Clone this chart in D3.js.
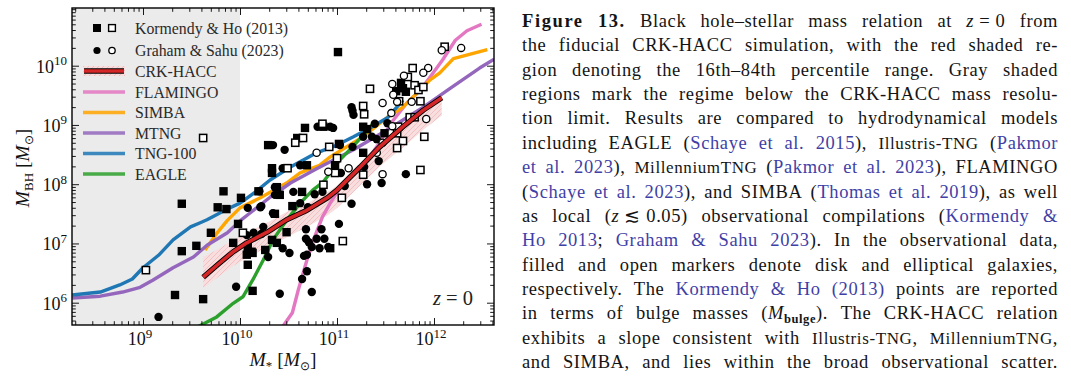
<!DOCTYPE html>
<html><head><meta charset="utf-8">
<script src="https://cdn.jsdelivr.net/npm/d3@7"></script>
<style>body{margin:0;background:#fff}svg{display:block}
svg text{font-family:"Liberation Serif",serif}</style>
</head><body>
<svg id="c" width="1071" height="383"></svg>
<script>
// ---------- data (log10 values) ----------
const crkX = [9.62, 9.79, 9.93, 10.07, 10.28, 10.48, 10.69, 10.90, 11.00, 11.24, 11.44, 11.68, 11.89, 12.08];
const crkY = [6.43, 6.67, 6.86, 7.01, 7.19, 7.40, 7.56, 7.77, 7.90, 8.29, 8.63, 8.97, 9.25, 9.46];
const crkHi = [6.77, 6.92, 7.06, 7.17, 7.35, 7.53, 7.68, 7.86, 7.98, 8.36, 8.69, 9.02, 9.30, 9.52];
const crkLo = [6.25, 6.45, 6.62, 6.76, 6.93, 7.10, 7.28, 7.47, 7.60, 7.98, 8.30, 8.62, 8.92, 9.16];

const flamX = [10.42, 10.54, 10.60, 10.69, 10.77, 10.85, 10.93, 11.03, 11.27, 11.41, 11.58, 11.72, 11.86, 11.96, 12.09, 12.22, 12.34, 12.49];
const flamY = [5.55, 5.83, 6.21, 6.72, 7.11, 7.45, 7.68, 7.94, 8.32, 8.63, 9.08, 9.37, 9.59, 9.81, 10.10, 10.43, 10.59, 10.70];

const simbaX = [9.64, 9.76, 9.87, 10.0, 10.21, 10.48, 10.62, 10.82, 10.93, 11.08, 11.27, 11.52, 11.68, 11.96, 12.06, 12.20, 12.55];
const simbaY = [6.89, 7.17, 7.39, 7.60, 7.77, 8.02, 8.19, 8.32, 8.46, 8.61, 8.80, 9.13, 9.30, 9.76, 9.88, 10.12, 10.27];

const mtngX = [8.27, 8.56, 8.79, 8.97, 9.10, 9.31, 9.52, 9.66, 9.87, 10.0, 10.10, 10.31, 10.52, 10.79, 11.17, 11.52, 11.89, 12.17, 12.47, 12.62];
const mtngY = [6.08, 6.11, 6.18, 6.26, 6.38, 6.59, 6.77, 6.97, 7.18, 7.38, 7.51, 7.78, 8.02, 8.26, 8.58, 8.92, 9.30, 9.62, 9.96, 10.11];

const tngX = [8.27, 8.56, 8.76, 8.89, 9.0, 9.16, 9.31, 9.49, 9.59, 9.66, 9.87, 10.0, 10.16, 10.31, 10.52, 10.79, 11.0, 11.17, 11.34, 11.52, 11.68];
const tngY = [6.13, 6.18, 6.30, 6.40, 6.59, 6.80, 7.06, 7.28, 7.35, 7.40, 7.58, 7.68, 7.87, 8.07, 8.29, 8.53, 8.66, 8.80, 8.95, 9.12, 9.42];

const eagleX = [9.55, 9.76, 9.93, 10.03, 10.13, 10.24, 10.34, 10.48, 10.62, 10.75, 10.86, 11.03, 11.16, 11.27, 11.36];
const eagleY = [5.58, 5.76, 5.99, 6.10, 6.38, 6.72, 7.06, 7.39, 7.68, 7.90, 8.04, 8.41, 8.63, 8.83, 9.00];

// Kormendy & Ho (2013): filled = disk, open = elliptical
const khDisk = [[9.83,7.88],[11.01,10.23],[10.01,7.77],[9.40,7.67],[9.77,7.61],[9.86,7.58],[10.19,7.88],[9.98,7.33],[9.70,7.18],[9.55,6.96],[9.93,7.01],[9.40,6.87],[10.08,6.94],[10.13,6.84],[10.07,6.81],[10.08,6.64],[10.13,6.20],[9.33,6.13],[9.62,6.06],[10.38,7.95],[10.41,7.82],[10.64,7.87],[10.54,7.63],[10.36,7.50],[10.48,7.19],[10.33,7.06],[10.38,7.01],[10.12,6.86],[10.26,6.89],[10.93,6.92],[10.29,8.66],[10.67,8.95],[10.59,8.78],[10.86,8.97],[10.33,8.27],[10.33,8.19],[10.69,8.32],[11.66,9.71],[11.68,9.62],[11.61,9.57],[11.71,9.56],[11.27,8.97],[11.31,8.93],[11.49,8.86],[11.27,8.53],[11.02,8.68],[10.98,8.32]];
const khEll = [[9.62,8.78],[9.03,6.55],[10.03,7.18],[11.05,7.77],[11.06,7.04],[12.11,10.32],[11.78,9.96],[11.34,9.61],[11.73,9.81],[11.80,9.67],[11.84,9.59],[11.89,9.64],[11.64,9.40],[11.86,9.40],[11.27,9.32],[11.28,9.18],[10.85,9.02],[11.75,9.13],[11.80,9.13],[11.63,8.97],[11.62,8.86],[11.90,8.80],[11.68,8.73],[11.62,8.61],[10.92,8.63],[11.00,8.44],[11.27,8.16],[11.86,8.24],[10.65,8.78],[10.57,8.70],[10.49,8.27],[10.98,8.19],[10.86,7.99]];
// Graham & Sahu (2023)
const gsDisk = [[9.16,5.76],[9.96,6.27],[10.08,7.60],[10.21,7.61],[10.07,7.14],[10.14,7.18],[10.20,7.88],[10.36,7.95],[10.36,7.82],[10.55,7.87],[10.62,7.68],[10.77,7.83],[10.85,7.87],[10.22,7.63],[10.70,7.61],[10.34,7.51],[10.24,7.28],[10.68,7.24],[10.84,7.24],[10.22,7.16],[10.68,7.08],[10.71,7.02],[10.79,7.08],[10.87,7.08],[10.74,6.94],[10.82,6.92],[10.91,6.94],[10.44,6.92],[10.51,6.84],[10.29,6.77],[10.66,6.79],[10.69,6.81],[10.69,6.53],[10.64,6.40],[10.41,6.15],[10.74,6.18],[11.31,8.00],[11.46,8.02],[11.15,7.67],[11.02,7.33],[10.34,8.66],[10.80,8.97],[10.46,8.58],[10.44,8.27],[10.62,8.32],[10.93,8.97],[10.96,8.95],[11.15,9.30],[11.16,9.24],[11.17,9.17],[11.39,9.02],[11.52,9.03],[11.36,8.80],[11.41,8.76],[11.27,8.80],[11.16,8.63],[11.03,8.66],[11.28,8.29],[11.43,8.39],[11.04,8.19],[11.71,8.17],[11.08,7.97]];
const gsEll = [[12.08,10.26],[12.28,10.30],[11.94,9.96],[11.89,9.88],[11.69,9.83],[11.57,9.69],[11.58,9.51],[11.47,9.37],[11.62,9.39],[11.77,9.39],[11.56,9.20],[11.92,9.10],[11.57,8.98],[11.47,8.70],[11.41,8.53],[11.12,8.27],[11.47,8.17],[10.91,8.21],[10.79,8.53]];

const xMajorExp = [9, 10, 11, 12];
const yMajorExp = [6, 7, 8, 9, 10];
const resolutionLimit = 10; // log10 M*
const legendLabels = ["Kormendy & Ho (2013)", "Graham & Sahu (2023)", "CRK-HACC", "FLAMINGO", "SIMBA", "MTNG", "TNG-100", "EAGLE"];

// ---------- chart ----------
const svg = d3.select("#c");
svg.append("rect").attr("width",1071).attr("height",383).attr("fill","#fff");
const P = {l:72, r:494, t:8, b:325};
const x = d3.scaleLog().domain([10**8.268, 10**12.6186]).range([P.l, P.r]);
const y = d3.scaleLog().domain([10**5.6236, 10**10.9738]).range([P.b, P.t]);
const X = v => x(10**v), Y = v => y(10**v);

const defs = svg.append("defs");
defs.append("clipPath").attr("id","clip")
  .append("rect").attr("x",P.l).attr("y",P.t).attr("width",P.r-P.l).attr("height",P.b-P.t);
const pat = defs.append("pattern").attr("id","hatch").attr("patternUnits","userSpaceOnUse")
  .attr("width",5).attr("height",5);
pat.append("rect").attr("width",5).attr("height",5).attr("fill","#f8dede");
pat.append("path").attr("d","M-1,1 l2,-2 M0,5 l5,-5 M4,6 l2,-2").attr("stroke","#f0bcbc").attr("stroke-width",0.9);

const plot = svg.append("g").attr("clip-path","url(#clip)");
plot.append("rect").attr("x",P.l).attr("y",P.t).attr("width",X(resolutionLimit)-P.l).attr("height",P.b-P.t).attr("fill","#ebebeb");

// band
const band = d3.area().x((d,i)=>X(crkX[i])).y0((d,i)=>Y(crkLo[i])).y1((d,i)=>Y(crkHi[i]));
plot.append("path").attr("d", band(crkX)).attr("fill","url(#hatch)");

const line = d3.line().x(d=>X(d[0])).y(d=>Y(d[1]));
const zip = (a,b)=>a.map((v,i)=>[v,b[i]]);
const sims = [
  {xs:flamX, ys:flamY, c:"#e377c2"},
  {xs:simbaX, ys:simbaY, c:"#ffa500"},
  {xs:mtngX, ys:mtngY, c:"#9467bd"},
  {xs:tngX, ys:tngY, c:"#1f77b4"},
  {xs:eagleX, ys:eagleY, c:"#2ca02c"}
];
sims.forEach(s=>{
  plot.append("path").attr("d", line(zip(s.xs,s.ys))).attr("fill","none")
    .attr("stroke",s.c).attr("stroke-width",3.4).attr("stroke-linejoin","round");
});

// markers
const sq = 8.4, sqo = 7.2;
plot.selectAll(".khd").data(khDisk).join("rect").attr("x",d=>X(d[0])-sq/2).attr("y",d=>Y(d[1])-sq/2)
  .attr("width",sq).attr("height",sq).attr("fill","#000");
plot.selectAll(".gsd").data(gsDisk).join("circle").attr("cx",d=>X(d[0])).attr("cy",d=>Y(d[1])).attr("r",4.2).attr("fill","#000");
plot.selectAll(".khe").data(khEll).join("rect").attr("x",d=>X(d[0])-sqo/2).attr("y",d=>Y(d[1])-sqo/2)
  .attr("width",sqo).attr("height",sqo).attr("fill","#fff").attr("stroke","#000").attr("stroke-width",1.5);
plot.selectAll(".gse").data(gsEll).join("circle").attr("cx",d=>X(d[0])).attr("cy",d=>Y(d[1])).attr("r",3.6)
  .attr("fill","#fff").attr("stroke","#000").attr("stroke-width",1.3);

// CRK-HACC line
const crk = zip(crkX, crkY);
plot.append("path").attr("d",line(crk)).attr("fill","none").attr("stroke","#000").attr("stroke-width",5.4).attr("stroke-linejoin","round");
plot.append("path").attr("d",line(crk)).attr("fill","none").attr("stroke","#d62728").attr("stroke-width",3.6).attr("stroke-linejoin","round");

// ticks
const minor = (lo,hi,sc)=>{const o=[];for(let e=lo;e<=hi;e++)for(let k=2;k<=9;k++){const v=k*10**e;const d=sc.domain();if(v>d[0]&&v<d[1])o.push(v);}return o;};
const xMaj = xMajorExp.map(e=>10**e), yMaj = yMajorExp.map(e=>10**e);
const xMin = minor(8,12,x), yMin = minor(5,10,y);
function ax(gen, tv, size, tr){
  svg.append("g").attr("transform",tr).call(gen.tickValues(tv).tickSize(size).tickFormat(""))
    .call(g=>{g.select(".domain").remove(); g.selectAll("line").attr("stroke","#000").attr("stroke-width",0.9);});
}
ax(d3.axisBottom(x), xMaj, -7, `translate(0,${P.b})`);
ax(d3.axisBottom(x), xMin, -3.8, `translate(0,${P.b})`);
ax(d3.axisTop(x), xMaj, -7, `translate(0,${P.t})`);
ax(d3.axisTop(x), xMin, -3.8, `translate(0,${P.t})`);
ax(d3.axisLeft(y), yMaj, -7, `translate(${P.l},0)`);
ax(d3.axisLeft(y), yMin, -3.8, `translate(${P.l},0)`);
ax(d3.axisRight(y), yMaj, -7, `translate(${P.r},0)`);
ax(d3.axisRight(y), yMin, -3.8, `translate(${P.r},0)`);

svg.append("rect").attr("x",P.l).attr("y",P.t).attr("width",P.r-P.l).attr("height",P.b-P.t)
  .attr("fill","none").attr("stroke","#000").attr("stroke-width",1.4);

// tick labels
const tl = svg.append("g").attr("fill","#111");
xMajorExp.forEach(e=>{
  const t = tl.append("text").attr("x",x(10**e)-3).attr("y",345).attr("text-anchor","middle").attr("font-size",18);
  t.append("tspan").text("10");
  t.append("tspan").attr("dy",-7.5).attr("font-size",13).text(e);
});
yMajorExp.forEach(e=>{
  const t = tl.append("text").attr("x",67).attr("y",y(10**e)+7).attr("text-anchor","end").attr("font-size",18);
  t.append("tspan").text("10");
  t.append("tspan").attr("dy",-7.5).attr("font-size",13).text(e);
});

// axis titles
function massLabel(t, sub){
  t.append("tspan").attr("font-style","italic").text("M");
  t.append("tspan").attr("dy",4).attr("font-size",13).text(sub);
  t.append("tspan").attr("dy",-4).text(" [");
  t.append("tspan").attr("font-style","italic").text("M");
  t.append("tspan").attr("dy",4).attr("font-size",12).text("⊙");
  t.append("tspan").attr("dy",-4).text("]");
}
massLabel(tl.append("text").attr("x",283).attr("y",366).attr("text-anchor","middle").attr("font-size",19.5), "*");
massLabel(tl.append("text").attr("transform","translate(29,168) rotate(-90)").attr("text-anchor","middle").attr("font-size",19.5), "BH");

const zt = tl.append("text").attr("x",433).attr("y",305).attr("font-size",20.5).attr("fill","#222");
zt.append("tspan").attr("font-style","italic").text("z");
zt.append("tspan").text(" = 0");

// legend
const lg = svg.append("g").attr("font-size",15.8).attr("fill","#2a2a2a");
const rows = [28, 50.5, 71, 92, 112.5, 133, 153.5, 174];
lg.append("rect").attr("x",97-4).attr("y",rows[0]-4).attr("width",8).attr("height",8).attr("fill","#000");
lg.append("rect").attr("x",112-3.4).attr("y",rows[0]-3.4).attr("width",6.8).attr("height",6.8).attr("fill","#fff").attr("stroke","#000").attr("stroke-width",1.4);
lg.append("circle").attr("cx",97).attr("cy",rows[1]).attr("r",3.6).attr("fill","#000");
lg.append("circle").attr("cx",112).attr("cy",rows[1]).attr("r",3.2).attr("fill","#fff").attr("stroke","#000").attr("stroke-width",1.3);
lg.append("rect").attr("x",83).attr("y",rows[2]-5).attr("width",42).attr("height",10).attr("fill","url(#hatch)");
lg.append("line").attr("x1",84).attr("x2",124).attr("y1",rows[2]).attr("y2",rows[2]).attr("stroke","#000").attr("stroke-width",5.4);
lg.append("line").attr("x1",84).attr("x2",124).attr("y1",rows[2]).attr("y2",rows[2]).attr("stroke","#d62728").attr("stroke-width",3.6);
sims.forEach((s,i)=>{
  lg.append("line").attr("x1",83).attr("x2",125).attr("y1",rows[i+3]).attr("y2",rows[i+3]).attr("stroke",s.c).attr("stroke-width",3.6).attr("opacity",0.85);
});
legendLabels.forEach((t,i)=>{
  lg.append("text").attr("x",135).attr("y",rows[i]+5.5).text(t);
});

// ---------- caption ----------
const captionLines = [
 [["Figure 13.","b"],[" Black hole–stellar mass relation at ","n"],["z","i"],["\u00a0=\u00a00 from","n"]],
 [["the fiducial CRK-HACC simulation, with the red shaded re-","n"]],
 [["gion denoting the 16th–84th percentile range. Gray shaded","n"]],
 [["regions mark the regime below the CRK-HACC mass resolu-","n"]],
 [["tion limit. Results are compared to hydrodynamical models","n"]],
 [["including EAGLE (","n"],["Schaye et al. 2015","c"],["), ","n"],["Illustris-TNG","s"],[" (","n"],["Pakmor","c"]],
 [["et al. 2023","c"],["), ","n"],["MillenniumTNG","s"],[" (","n"],["Pakmor et al. 2023","c"],["), FLAMINGO","n"]],
 [["(","n"],["Schaye et al. 2023","c"],["), and SIMBA (","n"],["Thomas et al. 2019","c"],["), as well","n"]],
 [["as local (","n"],["z","i"],["\u00a0≲\u00a00.05) observational compilations (","n"],["Kormendy &","c"]],
 [["Ho 2013","c"],["; ","n"],["Graham & Sahu 2023","c"],["). In the observational data,","n"]],
 [["filled and open markers denote disk and elliptical galaxies,","n"]],
 [["respectively. The ","n"],["Kormendy & Ho (2013)","c"],[" points are reported","n"]],
 [["in terms of bulge masses (","n"],["M","i"],["bulge","sub"],["). The CRK-HACC relation","n"]],
 [["exhibits a slope consistent with ","n"],["Illustris-TNG","s"],[", ","n"],["MillenniumTNG","s"],[",","n"]],
 [["and SIMBA, and lies within the broad observational scatter.","n"]]
];
const cap = svg.append("g").attr("font-size",18.5).attr("fill","#141414");
const CX0 = 522, CX1 = 1058;
function style(ts, s){
  if(s==="b") ts.attr("font-weight","bold").style("letter-spacing","1.6px");
  if(s==="c") ts.attr("fill","#3f3fa6");
  if(s==="i") ts.attr("font-style","italic");
  if(s==="s") ts.attr("font-size",17);
  if(s==="sub") ts.attr("font-size",12.5).attr("font-weight","bold");
}
captionLines.forEach((segs, li)=>{
  const yb = 27 + li*24.36;
  const groups=[[]];
  segs.forEach(([t,s])=>{ t.split(" ").forEach((p,i)=>{ if(i>0) groups.push([]); if(p) groups[groups.length-1].push([p,s]); }); });
  const gs = groups.filter(g=>g.length);
  let nChars = 0;
  const els = gs.map(g=>{
    const te = cap.append("text").attr("y",yb);
    let shift = 0;
    g.forEach(([p,s])=>{
      nChars += p.length;
      const ts = te.append("tspan").text(p); style(ts,s);
      const want = s==="sub"?4:0;
      if(want!==shift){ ts.attr("dy", want-shift); shift = want; }
    });
    return te;
  });
  const S = Math.max(1, els.length-1);
  const W0 = d3.sum(els, e=>e.node().getComputedTextLength());
  let ls = (CX1-CX0 - W0 - S*6.5)/nChars;
  ls = Math.max(0, Math.min(0.6, ls));
  els.forEach(e=>e.style("letter-spacing", ls+"px"));
  const ws = els.map(e=>e.node().getComputedTextLength());
  const gap = (CX1-CX0 - d3.sum(ws))/S;
  let cx = CX0;
  els.forEach((e,i)=>{ e.attr("x", cx); cx += ws[i] + gap; });
});
</script>
</body></html>
